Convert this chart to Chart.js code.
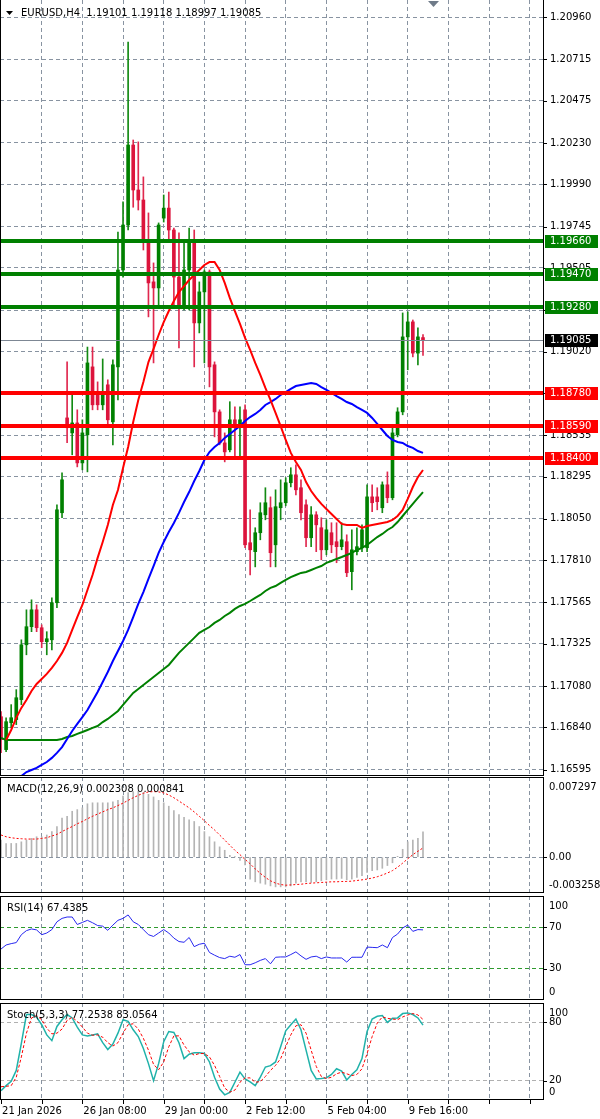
<!DOCTYPE html>
<html>
<head>
<meta charset="utf-8">
<title>EURUSD,H4</title>
<script src="https://cdn.jsdelivr.net/npm/chart.js"></script>
<style>
  html, body { margin: 0; padding: 0; background: #fff; }
  #wrap { position: relative; width: 600px; height: 1119px; overflow: hidden; }
  #wrap canvas { position: absolute; left: 0; }
</style>
</head>
<body>
<div id="wrap">
  <canvas id="main" width="600" height="776" style="top:0px"></canvas>
  <canvas id="macd" width="600" height="116" style="top:777px"></canvas>
  <canvas id="rsi" width="600" height="104" style="top:896px"></canvas>
  <canvas id="stoch" width="600" height="117" style="top:1003px"></canvas>
</div>
<script>
// ---- data (bar 0 = 21 Jan, one bar every 4 hours) ----
const symbol = "EURUSD", timeframe = "H4";

const opens = [1.16902, 1.16711, 1.16867, 1.16885, 1.17001, 1.17319, 1.17424, 1.17522, 1.17418, 1.17337,
  1.17348, 1.17563, 1.18085, 1.18635, 1.18548, 1.18606, 1.18374, 1.18537, 1.18931, 1.18780,
  1.18711, 1.18827, 1.18612, 1.18931, 1.19493, 1.19754, 1.20218, 1.19957, 1.19899, 1.19667,
  1.19424, 1.19389, 1.19794, 1.19852, 1.19725, 1.19452, 1.19278, 1.19493, 1.19656, 1.19186,
  1.19366, 1.19482, 1.18943, 1.18670, 1.18490, 1.18450, 1.18624, 1.18584, 1.18682, 1.17911,
  1.17859, 1.17969, 1.18073, 1.18114, 1.17899, 1.18114, 1.18143, 1.18259, 1.18305, 1.18230,
  1.18131, 1.17940, 1.18073, 1.17998, 1.17870, 1.17969, 1.17917, 1.17888, 1.17917, 1.17743,
  1.17859, 1.17882, 1.17882, 1.18177, 1.18177, 1.18114, 1.18247, 1.18172, 1.18537, 1.18670,
  1.19105, 1.19192, 1.19011, 1.19101];
const highs = [1.16931, 1.16896, 1.16972, 1.17059, 1.17348, 1.17522, 1.17580, 1.17551, 1.17435, 1.17395,
  1.17592, 1.18131, 1.18316, 1.18960, 1.18769, 1.18682, 1.18624, 1.19046, 1.19046, 1.18844,
  1.18977, 1.18856, 1.18972, 1.19713, 1.19888, 1.20815, 1.20247, 1.20236, 1.20033, 1.19824,
  1.19534, 1.19766, 1.19928, 1.19945, 1.19736, 1.19708, 1.19667, 1.19736, 1.19725, 1.19424,
  1.19493, 1.19493, 1.18960, 1.18682, 1.18548, 1.18729, 1.18700, 1.18700, 1.18711, 1.18102,
  1.17998, 1.18143, 1.18230, 1.18177, 1.18218, 1.18276, 1.18288, 1.18346, 1.18363, 1.18276,
  1.18160, 1.18120, 1.18091, 1.18056, 1.18044, 1.18027, 1.18027, 1.18027, 1.17957, 1.17986,
  1.17998, 1.18015, 1.18247, 1.18247, 1.18230, 1.18264, 1.18322, 1.18595, 1.18694, 1.19244,
  1.19250, 1.19203, 1.19157, 1.19118];
const lows = [1.16693, 1.16699, 1.16838, 1.16856, 1.16972, 1.17261, 1.17395, 1.17395, 1.17302, 1.17261,
  1.17290, 1.17534, 1.18056, 1.18491, 1.18421, 1.18351, 1.18334, 1.18322, 1.18682, 1.18682,
  1.18682, 1.18595, 1.18479, 1.18740, 1.19452, 1.19725, 1.19857, 1.19841, 1.19609, 1.19221,
  1.18954, 1.19278, 1.19771, 1.19667, 1.19278, 1.19041, 1.19261, 1.19261, 1.18931, 1.19128,
  1.18954, 1.18815, 1.18525, 1.18479, 1.18380, 1.18438, 1.18409, 1.18409, 1.17882, 1.17725,
  1.17771, 1.17928, 1.18044, 1.17771, 1.17771, 1.18044, 1.18125, 1.18235, 1.18189, 1.18044,
  1.17888, 1.17888, 1.17859, 1.17812, 1.17841, 1.17853, 1.17795, 1.17870, 1.17714, 1.17638,
  1.17841, 1.17859, 1.17859, 1.18091, 1.18102, 1.18085, 1.18143, 1.18160, 1.18525, 1.18653,
  1.18914, 1.18989, 1.18943, 1.18997];
const closes = [1.16769, 1.16873, 1.16896, 1.17012, 1.17319, 1.17424, 1.17522, 1.17418, 1.17337, 1.17354,
  1.17563, 1.18102, 1.18276, 1.18578, 1.18606, 1.18374, 1.18548, 1.18954, 1.18711, 1.18711,
  1.18786, 1.18624, 1.18943, 1.19493, 1.19754, 1.20218, 1.19957, 1.19899, 1.19667, 1.19418,
  1.19389, 1.19754, 1.19852, 1.19725, 1.19452, 1.19273, 1.19493, 1.19667, 1.19186, 1.19366,
  1.19482, 1.18931, 1.18670, 1.18490, 1.18438, 1.18624, 1.18578, 1.18624, 1.17899, 1.17870,
  1.17969, 1.18085, 1.18143, 1.17853, 1.18120, 1.18143, 1.18259, 1.18305, 1.18218, 1.18085,
  1.17940, 1.18073, 1.18015, 1.17870, 1.17986, 1.17899, 1.17888, 1.17928, 1.17737, 1.17870,
  1.17888, 1.17986, 1.18177, 1.18143, 1.18149, 1.18247, 1.18172, 1.18548, 1.18670, 1.19105,
  1.19192, 1.19011, 1.19105, 1.19085];

// moving averages (red, blue, green)
const maRed = [null, 1.16767, 1.16825, 1.16895, 1.16953, 1.16999, 1.17051, 1.17092, 1.17121, 1.17150,
  1.17185, 1.17225, 1.17272, 1.17330, 1.17405, 1.17480, 1.17550, 1.17637, 1.17724, 1.17823,
  1.17915, 1.18014, 1.18130, 1.18217, 1.18345, 1.18466, 1.18611, 1.18739, 1.18843, 1.18959,
  1.19035, 1.19116, 1.19191, 1.19255, 1.19313, 1.19365, 1.19400, 1.19435, 1.19464, 1.19493,
  1.19522, 1.19539, 1.19539, 1.19493, 1.19418, 1.19331, 1.19255, 1.19180, 1.19099, 1.19029,
  1.18954, 1.18884, 1.18809, 1.18739, 1.18664, 1.18588, 1.18507, 1.18432, 1.18379, 1.18333,
  1.18263, 1.18211, 1.18171, 1.18136, 1.18107, 1.18078, 1.18049, 1.18020, 1.18014, 1.18014,
  1.18014, 1.17997, 1.18008, 1.18014, 1.18020, 1.18026, 1.18031, 1.18043, 1.18066, 1.18101,
  1.18165, 1.18234, 1.18292, 1.18333];
const maBlue = [null, null, null, null, 1.16558, 1.16581, 1.16593, 1.16605, 1.16622, 1.16639,
  1.16663, 1.16692, 1.16726, 1.16773, 1.16819, 1.16860, 1.16900, 1.16941, 1.16993, 1.17045,
  1.17103, 1.17161, 1.17225, 1.17283, 1.17341, 1.17405, 1.17480, 1.17556, 1.17625, 1.17701,
  1.17776, 1.17852, 1.17915, 1.17973, 1.18026, 1.18084, 1.18147, 1.18205, 1.18269, 1.18327,
  1.18391, 1.18437, 1.18466, 1.18490, 1.18519, 1.18542, 1.18565, 1.18588, 1.18617, 1.18640,
  1.18658, 1.18681, 1.18710, 1.18727, 1.18745, 1.18768, 1.18785, 1.18803, 1.18820, 1.18826,
  1.18832, 1.18838, 1.18832, 1.18814, 1.18797, 1.18780, 1.18762, 1.18745, 1.18727, 1.18716,
  1.18698, 1.18681, 1.18664, 1.18635, 1.18600, 1.18565, 1.18530, 1.18507, 1.18495, 1.18490,
  1.18472, 1.18461, 1.18443, 1.18432];
const maGreen = [1.16779, 1.16767, 1.16767, 1.16767, 1.16767, 1.16767, 1.16767, 1.16767, 1.16767, 1.16767,
  1.16767, 1.16767, 1.16773, 1.16784, 1.16790, 1.16802, 1.16813, 1.16825, 1.16837, 1.16848,
  1.16871, 1.16889, 1.16912, 1.16935, 1.16970, 1.17005, 1.17040, 1.17063, 1.17086, 1.17109,
  1.17132, 1.17156, 1.17179, 1.17202, 1.17237, 1.17272, 1.17301, 1.17330, 1.17359, 1.17388,
  1.17405, 1.17422, 1.17446, 1.17463, 1.17486, 1.17504, 1.17527, 1.17544, 1.17556, 1.17573,
  1.17591, 1.17608, 1.17631, 1.17649, 1.17660, 1.17678, 1.17695, 1.17712, 1.17724, 1.17736,
  1.17741, 1.17753, 1.17765, 1.17776, 1.17794, 1.17805, 1.17817, 1.17828, 1.17840, 1.17852,
  1.17869, 1.17881, 1.17898, 1.17921, 1.17944, 1.17962, 1.17985, 1.18002, 1.18031, 1.18066,
  1.18101, 1.18136, 1.18171, 1.18205];

// horizontal levels
const resistance = [1.19660, 1.19470, 1.19280];
const support = [1.18780, 1.18590, 1.18400];

// price axis
const priceTicks = [1.20960, 1.20715, 1.20475, 1.20230, 1.19990, 1.19745, 1.19505, 1.19260, 1.19020,
  1.18780, 1.18535, 1.18295, 1.18050, 1.17810, 1.17565, 1.17325, 1.17080, 1.16840, 1.16595];
const PRICE_MIN = 1.16558, PRICE_MAX = 1.21059;

// MACD(12,26,9)
const macdMain = [0.00156, 0.00125, 0.00125, 0.00125, 0.00140, 0.00156, 0.00171, 0.00186, 0.00186, 0.00202,
  0.00233, 0.00279, 0.00356, 0.00372, 0.00418, 0.00433, 0.00449, 0.00486, 0.00495, 0.00495,
  0.00495, 0.00495, 0.00504, 0.00517, 0.00557, 0.00588, 0.00597, 0.00603, 0.00588, 0.00572,
  0.00548, 0.00517, 0.00495, 0.00464, 0.00424, 0.00387, 0.00362, 0.00341, 0.00325, 0.00279,
  0.00233, 0.00186, 0.00140, 0.00094, 0.00063, 0.00017, 0.00002, -0.00030, -0.00070, -0.00199,
  -0.00224, -0.00236, -0.00246, -0.00261, -0.00270, -0.00270, -0.00270, -0.00261, -0.00236, -0.00224,
  -0.00224, -0.00230, -0.00224, -0.00215, -0.00206, -0.00199, -0.00199, -0.00193, -0.00206, -0.00199,
  -0.00184, -0.00169, -0.00138, -0.00122, -0.00116, -0.00101, -0.00076, -0.00051, 0.00008, 0.00072,
  0.00140, 0.00156, 0.00171, 0.002308];
const macdSignal = [0.00202, 0.00186, 0.00177, 0.00171, 0.00168, 0.00165, 0.00165, 0.00165, 0.00171, 0.00177,
  0.00193, 0.00208, 0.00233, 0.00257, 0.00279, 0.00304, 0.00325, 0.00350, 0.00372, 0.00393,
  0.00412, 0.00433, 0.00449, 0.00470, 0.00492, 0.00517, 0.00541, 0.00563, 0.00582, 0.00594,
  0.00597, 0.00594, 0.00585, 0.00566, 0.00541, 0.00511, 0.00480, 0.00449, 0.00412, 0.00372,
  0.00332, 0.00288, 0.00248, 0.00202, 0.00156, 0.00109, 0.00063, 0.00023, -0.00020, -0.00060,
  -0.00107, -0.00147, -0.00184, -0.00215, -0.00236, -0.00249, -0.00255, -0.00252, -0.00249, -0.00246,
  -0.00240, -0.00236, -0.00233, -0.00230, -0.00227, -0.00224, -0.00224, -0.00221, -0.00221, -0.00218,
  -0.00212, -0.00206, -0.00199, -0.00190, -0.00178, -0.00162, -0.00144, -0.00122, -0.00091, -0.00054,
  -0.00014, 0.00023, 0.00054, 0.000841];
const MACD_MIN = -0.003258, MACD_MAX = 0.007297;
const macdAxis = [MACD_MAX, 0, MACD_MIN];
const macdAxisText = ["0.007297", "0.00", "-0.003258"];

// RSI(14)
const rsi = [49.0, 52.9, 54.2, 55.2, 62.8, 66.7, 68.3, 67.4, 62.8, 64.4,
  67.7, 75.2, 78.5, 79.8, 79.8, 72.6, 74.6, 76.6, 74.3, 71.6,
  71.0, 67.0, 72.0, 76.6, 78.5, 81.8, 75.2, 72.6, 67.7, 62.8,
  61.1, 64.4, 67.7, 64.4, 59.5, 56.2, 55.5, 60.1, 51.3, 53.6,
  54.6, 45.7, 43.1, 40.8, 39.8, 42.1, 41.1, 43.7, 33.9, 33.9,
  35.8, 38.1, 39.8, 34.8, 41.1, 41.4, 41.4, 43.7, 46.3, 42.4,
  39.1, 41.4, 42.1, 39.8, 41.4, 40.4, 40.4, 40.4, 36.5, 41.1,
  41.1, 41.1, 50.9, 50.6, 50.3, 52.9, 50.3, 60.1, 63.4, 69.3,
  72.0, 66.0, 67.7, 67.4385];
const rsiLevels = [70, 30];
const rsiAxis = [100, 70, 30, 0];

// Stochastic(5,3,3)
const stochMain = [9.5, 14.8, 19.3, 30.5, 58.4, 88.1, 88.1, 85.6, 77.6, 67.1,
  61.2, 75.8, 82.8, 88.1, 84.6, 75.2, 67.1, 66.1, 67.1, 68.2,
  59.1, 52.1, 57.7, 68.9, 82.8, 81.1, 72.4, 65.4, 53.2, 37.5,
  20.0, 37.5, 60.1, 70.6, 69.6, 59.1, 42.7, 47.2, 48.6, 48.6,
  47.9, 39.2, 23.5, 11.3, 5.3, 7.8, 18.3, 28.7, 21.7, 18.6,
  14.8, 23.5, 34.0, 35.4, 39.2, 54.9, 71.3, 77.6, 83.5, 72.4,
  51.4, 30.5, 21.7, 22.1, 22.8, 26.3, 32.2, 29.8, 20.7, 26.3,
  31.2, 42.7, 70.6, 83.5, 86.3, 87.0, 80.0, 84.2, 84.6, 89.1,
  89.8, 88.1, 84.6, 77.2538];
const stochSignal = [13.7, 14.1, 14.8, 23.5, 44.4, 68.9, 84.6, 87.0, 82.8, 74.1,
  68.2, 68.9, 73.1, 82.1, 85.3, 81.1, 75.2, 68.9, 66.8, 67.1,
  64.7, 59.1, 55.6, 59.1, 68.9, 77.6, 78.6, 73.1, 63.6, 51.4,
  36.8, 31.2, 39.2, 54.9, 66.1, 66.1, 56.6, 49.7, 46.2, 47.9,
  47.9, 44.4, 35.7, 24.2, 12.3, 8.1, 10.2, 18.3, 22.8, 22.8,
  18.3, 19.0, 24.2, 30.5, 35.7, 42.7, 54.9, 67.1, 76.5, 77.6,
  68.9, 51.4, 34.7, 24.2, 22.1, 23.5, 27.0, 28.7, 27.0, 25.2,
  26.3, 32.2, 47.9, 65.4, 79.3, 85.6, 84.2, 83.5, 82.8, 85.6,
  87.7, 89.1, 87.7, 83.0564];
const stochLevels = [80, 20];
const stochAxis = [100, 80, 20, 0];

// time axis
const timeLabels = ["21 Jan 2026", "26 Jan 08:00", "29 Jan 00:00", "2 Feb 12:00", "5 Feb 04:00", "9 Feb 16:00"];
const timeLabelBars = [0, 16, 32, 48, 64, 80];

// ---- drawing ----
const FONT = '10px "DejaVu Sans", Tahoma, sans-serif';
const GRID = '#8893a1';
const DASH = [4, 3];
const X_MIN = -0.2, X_MAX = 106.8;   // visible bar range, chart is shifted right
const last = closes.length - 1;
const gridBars = [];
for (let b = 8; b < X_MAX; b += 8) gridBars.push(b);

const pts = arr => arr.map((v, i) => ({ x: i, y: v }));
const isUp = closes.map((c, i) => c >= opens[i]);

function xAxis() {
  return {
    type: 'linear', min: X_MIN, max: X_MAX, offset: false, bounds: 'data',
    grid: { color: GRID, offset: false, drawTicks: false },
    border: { display: false, dash: DASH },
    ticks: { display: false },
    afterBuildTicks: s => { s.ticks = gridBars.map(v => ({ value: v })); },
    afterFit: s => { s.height = 0; }
  };
}

function yAxis(min, max, lines, color) {
  return {
    type: 'linear', position: 'right', min, max, bounds: 'data',
    grid: { color, drawTicks: false },
    border: { display: false, dash: DASH },
    ticks: { display: false },
    afterBuildTicks: s => { s.ticks = lines.map(v => ({ value: v })); },
    afterFit: s => { s.width = 56; }
  };
}

function options(y, padBottom) {
  return {
    responsive: false, animation: false, events: [],
    layout: { padding: { left: 0, right: 0, top: 0, bottom: padBottom || 0 } },
    plugins: { legend: { display: false }, tooltip: { enabled: false } },
    scales: { x: xAxis(), y }
  };
}

function frame(ctx, a, withTop) {
  ctx.save();
  ctx.strokeStyle = '#000';
  ctx.lineWidth = 1;
  ctx.beginPath();
  if (withTop) { ctx.moveTo(a.left, a.top + 0.5); ctx.lineTo(a.right, a.top + 0.5); }
  ctx.moveTo(a.left + 0.5, a.top); ctx.lineTo(a.left + 0.5, a.bottom);
  ctx.moveTo(a.right - 0.5, a.top); ctx.lineTo(a.right - 0.5, a.bottom);
  ctx.moveTo(a.left, a.bottom - 0.5); ctx.lineTo(a.right, a.bottom - 0.5);
  ctx.stroke();
  ctx.restore();
}

function axisText(ctx, a, scale, vals, texts, padTop, padBottom, dx) {
  ctx.save();
  ctx.font = FONT;
  ctx.fillStyle = '#000';
  ctx.strokeStyle = '#000';
  ctx.textBaseline = 'middle';
  ctx.textAlign = 'left';
  vals.forEach((v, k) => {
    const py = scale.getPixelForValue(v);
    const ty = Math.min(Math.max(py, a.top + padTop), a.bottom - padBottom);
    if (ty === py) {
      const ry = Math.round(py) + 0.5;
      ctx.beginPath(); ctx.moveTo(a.right, ry); ctx.lineTo(a.right + 3, ry); ctx.stroke();
    }
    ctx.fillText(texts[k], a.right + dx, ty);
  });
  ctx.restore();
}

function tag(ctx, a, py, text, bg) {
  const y0 = Math.round(py);
  ctx.fillStyle = bg;
  ctx.fillRect(a.right + 1, y0 - 6, 53, 13);
  ctx.fillStyle = '#fff';
  ctx.fillText(text, a.right + 6, y0 + 0.5);
}

const mainDecor = {
  id: 'mainDecor',
  afterDatasetsDraw(chart) {
    const { ctx, chartArea: a, scales: { y } } = chart;
    ctx.save();
    ctx.beginPath(); ctx.rect(a.left, a.top, a.right - a.left, a.bottom - a.top); ctx.clip();
    // bid line
    const by = Math.round(y.getPixelForValue(closes[last])) + 0.5;
    ctx.strokeStyle = '#7d8794'; ctx.lineWidth = 1;
    ctx.beginPath(); ctx.moveTo(a.left, by); ctx.lineTo(a.right, by); ctx.stroke();
    // support / resistance
    ctx.lineWidth = 4;
    const hline = (v, c) => {
      const py = Math.round(y.getPixelForValue(v));
      ctx.strokeStyle = c;
      ctx.beginPath(); ctx.moveTo(a.left, py); ctx.lineTo(a.right, py); ctx.stroke();
    };
    resistance.forEach(v => hline(v, '#008000'));
    support.forEach(v => hline(v, '#ff0000'));
    ctx.restore();
  },
  afterDraw(chart) {
    const { ctx, chartArea: a, scales: { y } } = chart;
    frame(ctx, a, false);
    axisText(ctx, a, y, priceTicks, priceTicks.map(v => v.toFixed(5)), 0, 0, 6);
    ctx.save();
    ctx.font = FONT;
    ctx.textBaseline = 'middle';
    ctx.textAlign = 'left';
    resistance.forEach(v => tag(ctx, a, y.getPixelForValue(v), v.toFixed(5), '#008000'));
    support.forEach(v => tag(ctx, a, y.getPixelForValue(v), v.toFixed(5), '#ff0000'));
    tag(ctx, a, y.getPixelForValue(closes[last]), closes[last].toFixed(5), '#000');
    // header
    ctx.fillStyle = '#000';
    ctx.beginPath(); ctx.moveTo(6, 11); ctx.lineTo(13, 11); ctx.lineTo(9.5, 15); ctx.closePath(); ctx.fill();
    const head = symbol + ',' + timeframe + '  ' + [opens[last], highs[last], lows[last], closes[last]].map(v => v.toFixed(5)).join(' ');
    ctx.fillText(head, 21, 13);
    // chart shift marker
    ctx.fillStyle = '#6f7b89';
    ctx.beginPath(); ctx.moveTo(428, 1); ctx.lineTo(439, 1); ctx.lineTo(433.5, 7); ctx.closePath(); ctx.fill();
    ctx.restore();
  }
};

function panelDecor(id, title, vals, texts, extra) {
  return {
    id,
    afterDraw(chart) {
      const { ctx, chartArea: a, scales: { y } } = chart;
      frame(ctx, a, true);
      axisText(ctx, a, y, vals, texts, 10, 8, 5);
      ctx.save();
      ctx.font = FONT;
      ctx.fillStyle = '#000';
      ctx.textBaseline = 'middle';
      ctx.fillText(title, 7, a.top + 12);
      ctx.restore();
      if (extra) extra(chart);
    }
  };
}

// main price panel
new Chart(document.getElementById('main'), {
  type: 'bar',
  data: {
    datasets: [
      { type: 'line', data: pts(maRed), borderColor: '#ff0000', borderWidth: 2, pointRadius: 0, order: 0 },
      { type: 'line', data: pts(maBlue), borderColor: '#0000ff', borderWidth: 2, pointRadius: 0, order: 0 },
      { type: 'line', data: pts(maGreen), borderColor: '#008000', borderWidth: 2, pointRadius: 0, order: 0 },
      { type: 'bar', data: opens.map((o, i) => ({ x: i, y: [o, closes[i]] })),
        backgroundColor: isUp.map(u => u ? '#008000' : '#dc143c'),
        barThickness: 3, minBarLength: 1, grouped: false, borderWidth: 0, order: 1 },
      { type: 'bar', data: lows.map((l, i) => ({ x: i, y: [l, highs[i]] })),
        backgroundColor: isUp.map(u => u ? '#138a13' : '#e0284e'),
        barThickness: 1, grouped: false, borderWidth: 0, order: 2 }
    ]
  },
  options: options(yAxis(PRICE_MIN, PRICE_MAX, priceTicks, GRID)),
  plugins: [mainDecor]
});

// MACD panel
new Chart(document.getElementById('macd'), {
  type: 'bar',
  data: {
    datasets: [
      { type: 'line', data: pts(macdSignal), borderColor: '#ff0000', borderWidth: 1, borderDash: [2, 2], pointRadius: 0, order: 0 },
      { type: 'bar', data: pts(macdMain), backgroundColor: '#b4b4b4', barThickness: 1, grouped: false, borderWidth: 0, order: 1 }
    ]
  },
  options: options(yAxis(MACD_MIN, MACD_MAX, [0], GRID)),
  plugins: [panelDecor('macdDecor',
    'MACD(12,26,9) ' + macdMain[last].toFixed(6) + ' ' + macdSignal[last].toFixed(6),
    macdAxis, macdAxisText)]
});

// RSI panel
new Chart(document.getElementById('rsi'), {
  type: 'line',
  data: {
    datasets: [
      { data: pts(rsi), borderColor: '#2727f0', borderWidth: 1, pointRadius: 0 }
    ]
  },
  options: options(yAxis(0, 100, rsiLevels, '#2f9a2f')),
  plugins: [panelDecor('rsiDecor', 'RSI(14) ' + rsi[last].toFixed(4), rsiAxis, rsiAxis.map(String))]
});

// Stochastic panel + time axis
new Chart(document.getElementById('stoch'), {
  type: 'line',
  data: {
    datasets: [
      { data: pts(stochSignal), borderColor: '#ff0000', borderWidth: 1, borderDash: [3, 2], pointRadius: 0 },
      { data: pts(stochMain), borderColor: '#20b2aa', borderWidth: 1.5, pointRadius: 0 }
    ]
  },
  options: options(yAxis(0, 100, stochLevels, '#b0b0b0'), 20),
  plugins: [panelDecor('stochDecor',
    'Stoch(5,3,3) ' + stochMain[last].toFixed(4) + ' ' + stochSignal[last].toFixed(4),
    stochAxis, stochAxis.map(String),
    chart => {
      const { ctx, chartArea: a, scales: { x } } = chart;
      ctx.save();
      ctx.strokeStyle = '#000';
      ctx.beginPath();
      [0].concat(gridBars).forEach(b => {
        const px = Math.round(x.getPixelForValue(b)) + 0.5;
        ctx.moveTo(px, a.bottom); ctx.lineTo(px, a.bottom + 4);
      });
      ctx.stroke();
      ctx.font = FONT;
      ctx.fillStyle = '#000';
      ctx.textBaseline = 'middle';
      timeLabels.forEach((t, k) => ctx.fillText(t, x.getPixelForValue(timeLabelBars[k]) + 1, a.bottom + 11));
      ctx.restore();
    })]
});
</script>
</body>
</html>
